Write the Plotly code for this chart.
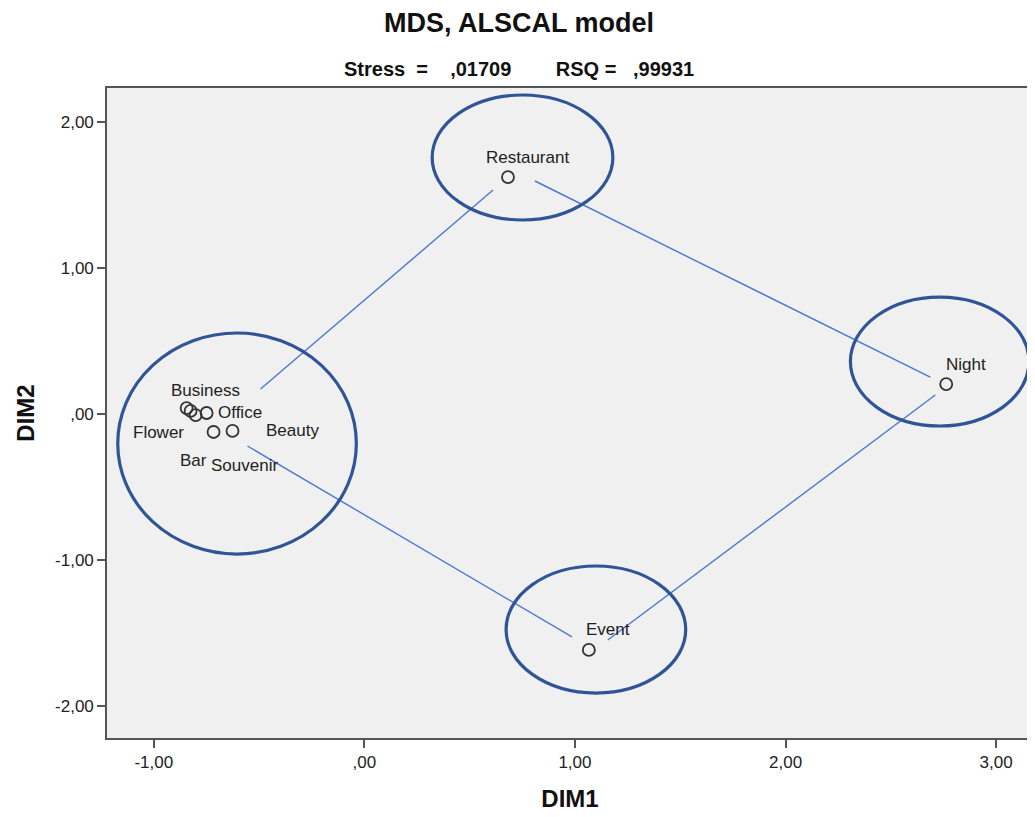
import plotly.graph_objects as go

# ---- data ----
labels = ["Business", "Flower", "Souvenir", "Office", "Bar", "Beauty", "Restaurant", "Night", "Event"]
dim1 = [-0.844, -0.825, -0.801, -0.749, -0.716, -0.626, 0.682, 2.763, 1.066]
dim2 = [0.041, 0.021, -0.007, 0.007, -0.123, -0.116, 1.623, 0.205, -1.616]

tick_vals_x = [-1, 0, 1, 2, 3]
tick_text_x = ["-1,00", ",00", "1,00", "2,00", "3,00"]
tick_vals_y = [-2, -1, 0, 1, 2]
tick_text_y = ["-2,00", "-1,00", ",00", "1,00", "2,00"]

# connecting lines (x0, y0, x1, y1) in data units
link_x0 = [-0.493, 0.810, 2.711, -0.555]
link_y0 = [0.171, 1.596, 0.130, -0.219]
link_x1 = [0.611, 2.687, 1.156, 0.986]
link_y1 = [1.534, 0.253, -1.548, -1.527]

# group ellipses (x0, x1, y0, y1) in data units
ell_x0 = [-1.171, 0.322, 2.308, 0.673]
ell_x1 = [-0.038, 1.180, 3.156, 1.526]
ell_y0 = [-0.959, 1.329, -0.082, -1.911]
ell_y1 = [0.555, 2.185, 0.801, -1.041]

# label offsets in pixels (style)
label_shift = {
    "Business": (19, 18), "Flower": (-32, -22), "Souvenir": (49, -50),
    "Office": (33, 1), "Bar": (-20, -29), "Beauty": (60, 0),
    "Restaurant": (20, 20), "Night": (20, 20), "Event": (19, 20),
}

FONT = "Liberation Sans, Arial, sans-serif"
NB = "&nbsp;"

fig = go.Figure()
fig.add_trace(go.Scatter(
    x=dim1, y=dim2, mode="markers",
    marker=dict(symbol="circle-open", size=12, color="#333333", line=dict(width=1.8)),
    hoverinfo="text", text=labels, showlegend=False,
))

for lab, xv, yv in zip(labels, dim1, dim2):
    dx, dy = label_shift[lab]
    fig.add_annotation(x=xv, y=yv, text=lab, showarrow=False, xshift=dx, yshift=dy,
                       xanchor="center", yanchor="middle",
                       font=dict(family=FONT, size=17, color="#222222"))

for a, b, c, d in zip(link_x0, link_y0, link_x1, link_y1):
    fig.add_shape(type="line", x0=a, y0=b, x1=c, y1=d, xref="x", yref="y",
                  line=dict(color="#4a78d2", width=1.4))

for a, b, c, d in zip(ell_x0, ell_x1, ell_y0, ell_y1):
    fig.add_shape(type="circle", x0=a, x1=b, y0=c, y1=d, xref="x", yref="y",
                  line=dict(color="#2f5597", width=3.2))

subtitle = ("<b>Stress" + NB * 2 + "=" + NB * 4 + ",01709" + NB * 8 + "RSQ" + NB + "=" + NB * 3 + ",99931</b>")

fig.add_annotation(text="<b>MDS, ALSCAL model</b>", xref="paper", yref="paper",
                   x=0.445, y=1.0, yshift=65, showarrow=False, xanchor="center", yanchor="middle",
                   font=dict(family=FONT, size=27, color="#111111"))
fig.add_annotation(text=subtitle, xref="paper", yref="paper",
                   x=0.445, y=1.0, yshift=19, showarrow=False, xanchor="center", yanchor="middle",
                   font=dict(family=FONT, size=20, color="#111111"))

fig.update_layout(
    width=1027, height=809,
    margin=dict(l=99, r=0, t=80, b=79),
    paper_bgcolor="white", plot_bgcolor="#f0f0f0",
    font=dict(family=FONT, size=17, color="#222222"),
    xaxis=dict(range=[-1.222, 3.175], tickvals=tick_vals_x, ticktext=tick_text_x,
               showgrid=False, zeroline=False, showline=True, mirror=True,
               linecolor="#555555", linewidth=1.6, ticks="outside", ticklen=8,
               tickcolor="#555555", tickwidth=1.6,
               tickfont=dict(family=FONT, size=17, color="#222222"),
               title=dict(text="<b>DIM1</b>", font=dict(size=24, family=FONT, color="#111111"), standoff=19)),
    yaxis=dict(range=[-2.219, 2.233], tickvals=tick_vals_y, ticktext=tick_text_y,
               showgrid=False, zeroline=False, showline=True, mirror=True,
               linecolor="#555555", linewidth=1.6, ticks="outside", ticklen=8,
               tickcolor="#555555", tickwidth=1.6,
               tickfont=dict(family=FONT, size=17, color="#222222"),
               title=dict(text="<b>DIM2</b>", font=dict(size=24, family=FONT, color="#111111"), standoff=14)),
)

fig.write_html("out.html")
